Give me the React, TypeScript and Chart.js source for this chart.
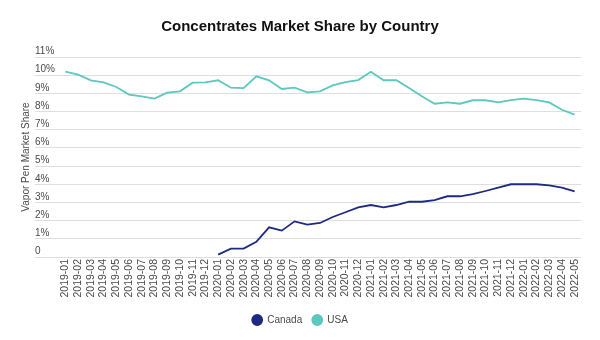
import React, { useEffect, useRef } from "react";
import { Chart, registerables } from "chart.js";

Chart.register(...registerables);

const months: string[] = [
  "2019-01","2019-02","2019-03","2019-04","2019-05","2019-06","2019-07","2019-08","2019-09","2019-10","2019-11","2019-12",
  "2020-01","2020-02","2020-03","2020-04","2020-05","2020-06","2020-07","2020-08","2020-09","2020-10","2020-11","2020-12",
  "2021-01","2021-02","2021-03","2021-04","2021-05","2021-06","2021-07","2021-08","2021-09","2021-10","2021-11","2021-12",
  "2022-01","2022-02","2022-03","2022-04","2022-05",
];

const canadaShare: (number | null)[] = [
  null, null, null, null, null, null, null, null, null, null, null, null,
  0.13, 0.46, 0.46, 0.84, 1.63, 1.45, 1.96, 1.78, 1.87, 2.2, 2.46, 2.73,
  2.86, 2.73, 2.86, 3.04, 3.04, 3.13, 3.34, 3.34, 3.46, 3.63, 3.81, 4.0,
  4.0, 4.0, 3.94, 3.81, 3.61,
];

const usaShare: number[] = [
  10.19, 10.03, 9.72, 9.6, 9.35, 8.93, 8.84, 8.71, 9.04, 9.11, 9.59, 9.6,
  9.72, 9.31, 9.29, 9.94, 9.72, 9.24, 9.31, 9.06, 9.11, 9.44, 9.62, 9.73,
  10.19, 9.72, 9.72, 9.29, 8.84, 8.43, 8.5, 8.43, 8.62, 8.62, 8.5, 8.63,
  8.71, 8.63, 8.5, 8.1, 7.83,
];

const seriesNames = ["Canada", "USA"];
const yTicks = { min: 0, max: 11, step: 1 };

const FONT = "'Liberation Sans', Arial, Helvetica, sans-serif";
const CANADA = "#1e2a80";
const USA = "#5ec7be";
const GRID = "#dedede";
const TEXT = "#4a4a4a";

export default function App() {
  const ref = useRef<HTMLCanvasElement | null>(null);
  useEffect(() => {
    if (!ref.current) return;
    const chart = new Chart(ref.current, {
      type: "line",
      data: {
        labels: months,
        datasets: [
          {
            label: seriesNames[0],
            data: canadaShare,
            borderColor: CANADA,
            backgroundColor: CANADA,
            borderWidth: 1.8,
            pointRadius: 0,
            tension: 0,
            spanGaps: false,
          },
          {
            label: seriesNames[1],
            data: usaShare,
            borderColor: USA,
            backgroundColor: USA,
            borderWidth: 1.8,
            pointRadius: 0,
            tension: 0,
          },
        ],
      },
      options: {
        animation: false,
        responsive: true,
        maintainAspectRatio: false,
        layout: { padding: { left: 0, right: 0, top: 0, bottom: 5 } },
        font: { family: FONT },
        plugins: {
          title: {
            display: true,
            text: "Concentrates Market Share by Country",
            color: "#111",
            font: { family: FONT, size: 15, weight: "bold" },
            padding: { top: 17.5, bottom: 21.5 },
          },
          legend: {
            position: "bottom",
            labels: {
              usePointStyle: false,
              useBorderRadius: true,
              borderRadius: 5,
              boxWidth: 10,
              boxHeight: 10,
              padding: 10,
              color: TEXT,
              font: { family: FONT, size: 10 },
            },
          },
          tooltip: { enabled: false },
        },
        scales: {
          x: {
            offset: true,
            grid: { display: false, drawTicks: false },
            border: { display: false },
            ticks: {
              autoSkip: false,
              minRotation: 90,
              maxRotation: 90,
              padding: 2,
              color: TEXT,
              font: { family: FONT, size: 10.5 },
            },
            afterFit: (s: any) => {
              s.height = 48;
            },
          },
          y: {
            weight: 0,
            min: yTicks.min,
            max: yTicks.max,
            border: { display: false },
            grid: { color: GRID, lineWidth: 1, drawTicks: true, tickLength: 24 },
            ticks: {
              stepSize: yTicks.step,
              crossAlign: "far",
              labelOffset: -5.5,
              color: TEXT,
              font: { family: FONT, size: 10 },
              callback: (v: any) => (Number(v) === 0 ? "0" : v + "%"),
            },
            afterFit: (s: any) => {
              s.width = 24;
            },
          },
          yTitle: {
            type: "linear",
            position: "left",
            weight: 10,
            display: true,
            grid: { display: false, drawTicks: false },
            border: { display: false },
            ticks: { display: false },
            title: {
              display: true,
              text: "Vapor Pen Market Share",
              color: TEXT,
              font: { family: FONT, size: 10 },
              padding: { top: 20.5, bottom: 2.5 },
            },
          },
          rightSpace: {
            type: "linear",
            position: "right",
            display: true,
            grid: { display: false, drawTicks: false },
            border: { display: false },
            ticks: { display: false },
            afterFit: (s: any) => {
              s.width = 19;
            },
          },
        },
      } as any,
    });
    return () => chart.destroy();
  }, []);
  return (
    <div style={{ position: "fixed", left: 0, top: 0, width: 600, height: 340, background: "#fff" }}>
      <canvas ref={ref} />
    </div>
  );
}
